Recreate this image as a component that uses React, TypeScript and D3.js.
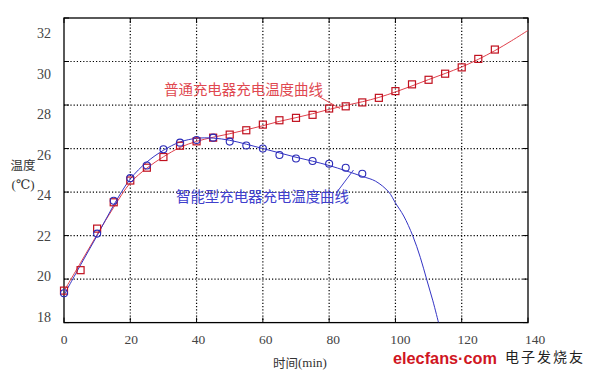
import React from "react";
import * as d3 from "d3";

// ---- data ----
const redMarkerX = [0, 5, 10, 15, 20, 25, 30, 35, 40, 45, 50, 55, 60, 65, 70, 75, 80, 85, 90, 95, 100, 105, 110, 115, 120, 125, 130];
const redMarkerY = [19.47, 20.41, 22.32, 23.53, 24.53, 25.12, 25.61, 26.13, 26.33, 26.5, 26.64, 26.84, 27.1, 27.3, 27.41, 27.55, 27.84, 27.94, 28.12, 28.33, 28.64, 28.95, 29.16, 29.44, 29.73, 30.12, 30.55];

const blueMarkerX = [0, 10, 15, 20, 25, 30, 35, 40, 45, 50, 55, 60, 65, 70, 75, 80, 85, 90];
const blueMarkerY = [19.35, 22.09, 23.6, 24.64, 25.22, 25.97, 26.27, 26.39, 26.5, 26.32, 26.14, 26.0, 25.7, 25.54, 25.43, 25.3, 25.12, 24.84];

const redFitX = [0, 5, 10, 15, 20, 25, 30, 35, 40, 45, 50, 55, 60, 65, 70, 75, 80, 85, 90, 95, 100, 105, 110, 115, 120, 125, 130, 135, 140];
const redFitY = [19.45, 20.75, 22.05, 23.3, 24.42, 25.1, 25.62, 26.05, 26.33, 26.52, 26.68, 26.86, 27.05, 27.25, 27.42, 27.6, 27.8, 27.98, 28.15, 28.35, 28.6, 28.88, 29.17, 29.45, 29.75, 30.1, 30.5, 30.95, 31.43];

const blueFitX = [0, 5, 10, 15, 20, 25, 30, 35, 40, 45, 50, 55, 60, 65, 70, 75, 80, 85, 90, 94, 98, 100, 102.5, 105.2, 107.5, 109.4, 111.3, 113];
const blueFitY = [19.27, 20.65, 22.0, 23.4, 24.6, 25.38, 25.92, 26.3, 26.47, 26.48, 26.38, 26.2, 26.0, 25.8, 25.6, 25.42, 25.22, 24.98, 24.72, 24.5, 24.0, 23.5, 22.9, 22.0, 21.0, 20.0, 19.0, 18.0];

const xTicks = [0, 20, 40, 60, 80, 100, 120, 140];
const yTicks = [18, 20, 22, 24, 26, 28, 30, 32];

const redLabel = "普通充电器充电温度曲线";
const blueLabel = "智能型充电器充电温度曲线";
const xTitle = "时间(min)";
const yTitle1 = "温度";
const yTitle2 = "(℃)";

export default function App() {
  const W = 597, H = 372;
  const left = 64, right = 528, top = 18, bottom = 322.6;
  const x = d3.scaleLinear().domain([0, 140]).range([left, right]);
  const y = d3.scaleLinear().domain([18, 32]).range([bottom, top]);
  // tick label placement (labels in the original are slightly offset from grid)
  const xl = d3.scaleLinear().domain([0, 140]).range([64, 535]);
  const yl = d3.scaleLinear().domain([18, 32]).range([317.5, 33.5]);

  const line = d3.line<[number, number]>()
    .x((d) => x(d[0]))
    .y((d) => y(d[1]))
    .curve(d3.curveCatmullRom);

  const redPts = redFitX.map((v, i) => [v, redFitY[i]] as [number, number]);
  const bluePts = blueFitX.map((v, i) => [v, blueFitY[i]] as [number, number]);

  const serif = "'Liberation Serif', 'DejaVu Serif', serif";
  const cjk = "'Noto Sans CJK SC', sans-serif";
  const tickLen = 5;

  return (
    <svg width={W} height={H} style={{ position: "absolute", left: 0, top: 0, background: "#fff" }}>
      <rect x={0} y={0} width={W} height={H} fill="#fff" />
      <defs>
        <clipPath id="plot">
          <rect x={left} y={top} width={right - left} height={bottom - top} />
        </clipPath>
      </defs>
      {/* grid */}
      {xTicks.slice(1, -1).map((t) => (
        <line key={"gx" + t} x1={x(t)} x2={x(t)} y1={top} y2={bottom} stroke="#000" strokeWidth={1.2} strokeDasharray="1.2,2" />
      ))}
      {yTicks.slice(1, -1).map((t) => (
        <line key={"gy" + t} x1={left} x2={right} y1={y(t)} y2={y(t)} stroke="#000" strokeWidth={1.2} strokeDasharray="1.2,2" />
      ))}
      {/* inward ticks */}
      {xTicks.map((t) => (
        <g key={"tx" + t}>
          <line x1={x(t)} x2={x(t)} y1={bottom} y2={bottom - tickLen} stroke="#000" />
          <line x1={x(t)} x2={x(t)} y1={top} y2={top + tickLen} stroke="#000" />
        </g>
      ))}
      {yTicks.map((t) => (
        <g key={"ty" + t}>
          <line x1={left} x2={left + tickLen} y1={y(t)} y2={y(t)} stroke="#000" />
          <line x1={right} x2={right - tickLen} y1={y(t)} y2={y(t)} stroke="#000" />
        </g>
      ))}
      {/* frame */}
      <rect x={left} y={top} width={right - left} height={bottom - top} fill="none" stroke="#000" strokeWidth={1.3} />

      {/* fit curves */}
      <g clipPath="url(#plot)">
        <path d={line(redPts) || ""} fill="none" stroke="#e0404c" strokeWidth={1} />
        <path d={line(bluePts) || ""} fill="none" stroke="#3434c4" strokeWidth={1} />
      </g>

      {/* markers */}
      {redMarkerX.map((v, i) => (
        <rect key={"rm" + i} x={x(v) - 3.5} y={y(redMarkerY[i]) - 3.5} width={7} height={7} fill="none" stroke="#c0101e" strokeWidth={1.2} />
      ))}
      {blueMarkerX.map((v, i) => (
        <circle key={"bm" + i} cx={x(v)} cy={y(blueMarkerY[i])} r={3.5} fill="none" stroke="#2a2ab8" strokeWidth={1.1} />
      ))}

      {/* annotations */}
      <text x={164} y={88.5} fontFamily={cjk} fontSize={14.5} fill="#e04850" dominantBaseline="central" textLength={159}>{redLabel}</text>
      <line x1={318} y1={96} x2={340} y2={108.5} stroke="#e04850" strokeWidth={1} />
      <text x={176} y={195} fontFamily={cjk} fontSize={14.5} fill="#4040cc" dominantBaseline="central" textLength={173}>{blueLabel}</text>
      <line x1={353.5} y1={170} x2={337} y2={192} stroke="#4040cc" strokeWidth={1} />

      {/* tick labels */}
      {xTicks.map((t) => (
        <text key={"xl" + t} x={xl(t)} y={339.5} fontFamily={serif} fontSize={13.5} fill="#444" textAnchor="middle" dominantBaseline="central">{t}</text>
      ))}
      {yTicks.map((t) => (
        <text key={"yl" + t} x={44} y={yl(t)} fontFamily={serif} fontSize={14} fill="#444" textAnchor="middle" dominantBaseline="central">{t}</text>
      ))}

      {/* axis titles */}
      <text x={23} y={164} fontFamily={cjk} fontSize={12.5} fill="#333" textAnchor="middle" dominantBaseline="central">{yTitle1}</text>
      <text x={23} y={184} fontFamily={serif} fontSize={13} fill="#333" textAnchor="middle" dominantBaseline="central">{yTitle2}</text>
      <text x={273} y={362} fontFamily={serif} fontSize={13} fill="#333" dominantBaseline="central">
        <tspan fontFamily={cjk} fontSize={12.5}>时间</tspan>
        <tspan>(min)</tspan>
      </text>

      {/* watermark */}
      <text x={393} y={364} fontFamily="'Liberation Sans', Arial, sans-serif" fontWeight="bold" fontSize={17} fill="#d01522" textLength={104} lengthAdjust="spacingAndGlyphs">elecfans·com</text>
      <text x={505} y={362} fontFamily={cjk} fontSize={14} fill="#222" textLength={78}>电子发烧友</text>
    </svg>
  );
}
